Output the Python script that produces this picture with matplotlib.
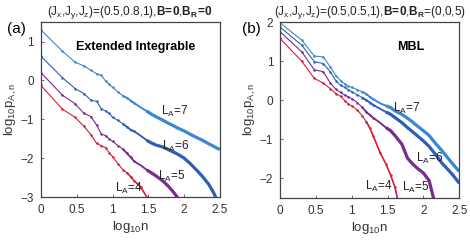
import numpy as np
import matplotlib
matplotlib.use("Agg")
import matplotlib.pyplot as plt
from matplotlib.ticker import FormatStrFormatter

plt.rcParams['font.family'] = ['Liberation Sans', 'DejaVu Sans']
plt.rcParams['mathtext.fontset'] = 'custom'
plt.rcParams['mathtext.rm'] = 'Liberation Sans'
plt.rcParams['mathtext.it'] = 'Liberation Sans'
plt.rcParams['mathtext.bf'] = 'Liberation Sans:bold'

# n values (x axis is log10 n)
n_pts = [1, 2, 3, 4, 5, 6, 7, 8, 9, 10, 12, 14, 16, 18, 20, 25, 30, 35, 40,
         50, 60, 70, 80, 100, 120, 150, 180, 220, 260, 316]

# panel (a): extended integrable, log10 p_{A,n}
a_L7 = [1.30, 0.75, 0.47, 0.37, 0.26, 0.17, 0.13, -0.02, -0.10, -0.18, -0.30, -0.40,
        -0.45, -0.52, -0.58, -0.70, -0.79, -0.87, -0.93, -1.02, -1.10, -1.16, -1.22,
        -1.30, -1.38, -1.47, -1.54, -1.63, -1.70, -1.78]
a_L6 = [0.62, 0.07, -0.21, -0.34, -0.51, -0.54, -0.73, -0.79, -0.85, -0.95, -1.03, -1.12,
        -1.20, -1.27, -1.31, -1.43, -1.54, -1.61, -1.66, -1.71, -1.78, -1.84, -1.89,
        -2.00, -2.13, -2.31, -2.47, -2.67, -2.90, -3.25]
a_L5 = [0.20, -0.38, -0.60, -0.85, -0.93, -1.15, -1.38, -1.42, -1.50, -1.57, -1.68, -1.77,
        -1.88, -1.98, -2.08, -2.19, -2.30, -2.38, -2.45, -2.58, -2.72, -2.86, -3.00,
        -3.30]
a_L4 = [-0.13, -0.74, -0.95, -1.18, -1.40, -1.62, -1.68, -1.73, -1.86, -1.96, -2.15, -2.30,
        -2.38, -2.48, -2.58, -2.75, -3.00, -3.30]

# panel (b): MBL
b_L7 = [1.98, 1.54, 1.13, 1.11, 0.86, 0.63, 0.50, 0.42, 0.36, 0.33, 0.27, 0.22, 0.16,
        0.08, 0.03, -0.08, -0.14, -0.19, -0.27, -0.36, -0.46, -0.55, -0.64, -0.78,
        -0.90, -1.12, -1.28, -1.48, -1.64, -1.82]
b_L6 = [1.87, 1.41, 0.99, 0.94, 0.73, 0.50, 0.38, 0.33, 0.27, 0.22, 0.14, 0.07, 0.00,
        -0.06, -0.12, -0.22, -0.30, -0.36, -0.44, -0.57, -0.70, -0.80, -0.89, -1.04,
        -1.18, -1.40, -1.60, -1.77, -1.92, -2.12]
b_L5 = [1.75, 1.24, 0.78, 0.73, 0.45, 0.28, 0.20, 0.13, 0.09, 0.04, -0.06, -0.18, -0.30,
        -0.38, -0.45, -0.58, -0.70, -0.78, -0.90, -1.12, -1.48, -1.62, -1.72, -1.86,
        -2.05, -2.75]
b_L4 = [1.58, 1.00, 0.56, 0.44, 0.30, 0.17, 0.10, -0.01, -0.10, -0.14, -0.25, -0.40,
        -0.55, -0.72, -0.92, -1.35, -1.63, -1.92, -2.22, -3.00]

sizes = [7, 6, 5, 4]
colors = ['#3a87d2', '#2f5fb5', '#7a2c8e', '#d2213c']

logn = np.log10(n_pts)


def draw(ax, series):
    for i, (y, c) in enumerate(zip(series, colors)):
        x = logn[:len(y)]
        y = np.array(y)
        red = (i == 3)
        # thin line with small dots where points are sparse
        ax.plot(x, y, '-', color=c, lw=0.8)
        dots = np.ones(len(x), bool) if red else (x < 1.35)
        ax.plot(x[dots], y[dots], 'o', color=c, ms=1.8, mew=0)
        if red:
            ax.plot(x[x >= 1.2], y[x >= 1.2], '-', color=c, lw=1.1)
        else:
            # dense points merge into a thick line
            mid = (x >= 1.1)
            ax.plot(x[mid], y[mid], '-', color=c, lw=1.3, solid_capstyle='butt')
            thick = x >= 1.4
            ax.plot(x[thick], y[thick], '-', color=c, lw=2.3, solid_capstyle='butt')


fig = plt.figure(figsize=(4.7, 2.4), dpi=100)
axes = [fig.add_axes([0.087, 0.179, 0.381, 0.729]),
        fig.add_axes([0.596, 0.175, 0.381, 0.733])]

draw(axes[0], [a_L7, a_L6, a_L5, a_L4])
draw(axes[1], [b_L7, b_L6, b_L5, b_L4])

axes[0].set_ylim(-3, 1.5)
axes[0].set_yticks([-3, -2, -1, 0, 1])
axes[1].set_ylim(-2.5, 2.0)
axes[1].set_yticks([-2, -1, 0, 1, 2])

for ax in axes:
    ax.set_xlim(0, 2.5)
    ax.set_xticks([0, 0.5, 1, 1.5, 2, 2.5])
    ax.xaxis.set_major_formatter(FormatStrFormatter('%g'))
    ax.tick_params(direction='in', length=2.5, width=0.6, labelsize=8.5,
                   labelcolor='#333333', color='#555555', pad=5)
    for s in ax.spines.values():
        s.set_color('#444444')
        s.set_linewidth(0.9)
    ax.set_xlabel(r'log$_{10}$n', fontsize=9.5, color='#333333', labelpad=2)
    ax.set_ylabel(r'log$_{10}$p$_{A,n}$', fontsize=9.5, color='#333333', labelpad=1)

lab = r'L$_{\mathregular{A}}$=%d'
# panel (a) labels
for s, (x, y) in zip(sizes, [(1.68, -0.80), (1.69, -1.69), (1.63, -2.46), (1.03, -2.77)]):
    axes[0].text(x, y, lab % s, fontsize=8.5, va='center', ha='left', color='#222222')
# panel (b) labels
for s, (x, y) in zip(sizes, [(1.57, -0.20), (1.90, -1.49), (1.70, -2.23), (1.19, -2.20)]):
    axes[1].text(x, y, lab % s, fontsize=8.5, va='center', ha='left', color='#222222')

axes[0].text(0.53, 0.86, 'Extended Integrable', transform=axes[0].transAxes,
             fontsize=9, fontweight='bold', ha='center', va='center')
axes[1].text(0.73, 0.86, 'MBL', transform=axes[1].transAxes,
             fontsize=9, fontweight='bold', ha='center', va='center')

fig.text(0.277, 0.95, r'($J_x$,$J_y$,$J_z$)=(0.5,0.8,1),$\mathbf{B\!=\!0}$,$\mathbf{B_R\!=\!0}$',
         fontsize=8.5, ha='center', va='center', color='#222222')
fig.text(0.787, 0.95, r'($J_x$,$J_y$,$J_z$)=(0.5,0.5,1),$\mathbf{B\!=\!0}$,$\mathbf{B_R}$=(0,0,5)',
         fontsize=8.5, ha='center', va='center', color='#222222')

fig.text(0.035, 0.88, '(a)', fontsize=11, ha='center', va='center')
fig.text(0.535, 0.88, '(b)', fontsize=11, ha='center', va='center')

fig.savefig('out.png', dpi=100)
